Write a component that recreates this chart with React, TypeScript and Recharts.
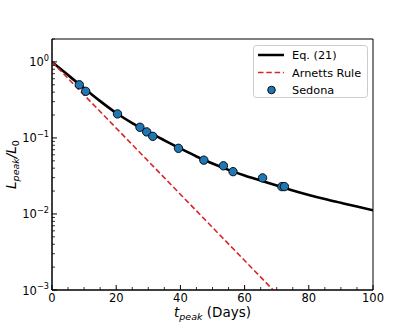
import React from 'react';
import {
  ComposedChart, Line, Scatter, XAxis, YAxis, ReferenceArea,
} from 'recharts';

// Eq. (21) curve
const eqT = [0, 5, 10, 15, 20, 25, 30, 35, 40, 45, 50, 55, 60, 65, 70, 75, 80, 85, 90, 95, 100];
const eqL = [1.0, 0.67, 0.45, 0.305, 0.213, 0.157, 0.12, 0.093, 0.0725, 0.057, 0.046, 0.038, 0.032, 0.0275, 0.0236, 0.0204, 0.0178, 0.0157, 0.014, 0.0125, 0.0112];

// Arnett's rule (straight line on log axis)
const arnettT = [0, 68.9];
const arnettL = [1.0, 0.001];

// Sedona points
const sedonaT = [8.5, 10.5, 20.4, 27.4, 29.5, 31.4, 39.4, 47.3, 53.4, 56.4, 65.6, 71.6, 72.4];
const sedonaL = [0.5, 0.41, 0.207, 0.138, 0.12, 0.105, 0.073, 0.051, 0.043, 0.036, 0.0298, 0.0229, 0.0229];

const xTicks = [0, 5, 10, 15, 20, 25, 30, 35, 40, 45, 50, 55, 60, 65, 70, 75, 80, 85, 90, 95, 100];
const xMajor = [0, 20, 40, 60, 80, 100];
const yDecades = [-3, -2, -1, 0];
const yMantissas = [1, 2, 3, 4, 5, 6, 7, 8, 9];
const yDomain: [number, number] = [0.001, 2];

const yTicks: number[] = [];
yDecades.forEach((e) => {
  yMantissas.forEach((m) => {
    const v = parseFloat((m * Math.pow(10, e)).toPrecision(6));
    if (v <= yDomain[1]) yTicks.push(v);
  });
});

const eqData = eqT.map((t, i) => ({ t, L: eqL[i] }));
const arnettData = arnettT.map((t, i) => ({ t, L: arnettL[i] }));
const sedonaData = sedonaT.map((t, i) => ({ t, L: sedonaL[i] }));

const FONT = 'DejaVu Sans';

const XTick = (props: any) => {
  const { x, y, payload } = props;
  const v = payload.value;
  const major = xMajor.includes(v);
  return (
    <g>
      <line x1={x} x2={x} y1={y} y2={y - (major ? 5 : 3)} stroke="#000" strokeWidth={major ? 1 : 0.8} />
      {major && (
        <text x={x} y={y + 11.5} textAnchor="middle" fontSize={11.5} fontFamily={FONT} fill="#000">
          {v}
        </text>
      )}
    </g>
  );
};

const YTick = (props: any) => {
  const { x, y, payload } = props;
  const v = payload.value;
  const lg = Math.log10(v);
  const e = Math.round(lg);
  const major = Math.abs(lg - e) < 1e-6;
  return (
    <g>
      <line x1={x} x2={x + (major ? 5 : 3)} y1={y} y2={y} stroke="#000" strokeWidth={major ? 1 : 0.8} />
      {major && (
        <text x={x - 3} y={y + 4.5} textAnchor="end" fontSize={11.5} fontFamily={FONT} fill="#000">
          10
          <tspan dy={-5.5} fontSize={8.2}>{e < 0 ? '\u2212' + -e : String(e)}</tspan>
        </text>
      )}
    </g>
  );
};

const XTitle = () => (
  <text x={212.5} y={316.5} textAnchor="middle" fontSize={13.5} fontFamily={FONT} fill="#000">
    <tspan fontStyle="italic">t</tspan>
    <tspan fontStyle="italic" fontSize={9.5} dy={3}>peak</tspan>
    <tspan dy={-3}>{'\u00a0(Days)'}</tspan>
  </text>
);

const YTitle = () => (
  <text
    x={16}
    y={164.5}
    transform="rotate(-90, 16, 164.5)"
    textAnchor="middle"
    fontSize={13.5}
    fontFamily={FONT}
    fill="#000"
  >
    <tspan fontStyle="italic">L</tspan>
    <tspan fontStyle="italic" fontSize={9.5} dy={3}>peak</tspan>
    <tspan fontStyle="italic" dy={-3}>/L</tspan>
    <tspan fontSize={9.5} dy={3}>0</tspan>
  </text>
);

const Dot = (props: any) => {
  const { cx, cy } = props;
  if (cx == null || cy == null) return null;
  return <circle cx={cx} cy={cy} r={4.2} fill="#1f77b4" stroke="#000" strokeWidth={0.9} />;
};

const LegendBox = () => (
  <svg width={415} height={332} style={{ position: 'absolute', left: 0, top: 0, pointerEvents: 'none' }}>
    <rect x={253.5} y={45.5} width={114} height={52} rx={3} fill="#fff" fillOpacity={0.8} stroke="#cccccc" strokeWidth={1} />
    <line x1={258} x2={284} y1={55} y2={55} stroke="#000" strokeWidth={2.5} />
    <line x1={258} x2={284} y1={72.5} y2={72.5} stroke="#d62728" strokeWidth={1.6} strokeDasharray="5.5 2.8" />
    <circle cx={271.5} cy={90} r={3.8} fill="#1f77b4" stroke="#000" strokeWidth={0.9} />
    <text x={292} y={59.3} fontSize={11.3} fontFamily={FONT} fill="#000">Eq. (21)</text>
    <text x={292} y={76.5} fontSize={11.3} fontFamily={FONT} fill="#000">Arnetts Rule</text>
    <text x={292} y={94} fontSize={11.3} fontFamily={FONT} fill="#000">Sedona</text>
  </svg>
);

export default function App() {
  return (
    <div style={{ position: 'absolute', left: 0, top: 0, width: 415, height: 332, background: '#fff' }}>
      <ComposedChart width={415} height={332} margin={{ top: 39, right: 42, left: 0, bottom: 0 }}>
        <XAxis
          type="number"
          dataKey="t"
          domain={[0, 100]}
          ticks={xTicks}
          interval={0}
          allowDataOverflow
          height={42}
          tickSize={0}
          tickMargin={0}
          tickLine={false}
          axisLine={{ stroke: '#000', strokeWidth: 1 }}
          tick={(p: any) => <XTick {...p} />}
          label={<XTitle />}
        />
        <YAxis
          type="number"
          dataKey="L"
          scale="log"
          domain={yDomain}
          ticks={yTicks}
          interval={0}
          allowDataOverflow
          width={52}
          tickSize={0}
          tickMargin={0}
          tickLine={false}
          axisLine={{ stroke: '#000', strokeWidth: 1 }}
          tick={(p: any) => <YTick {...p} />}
          label={<YTitle />}
        />
        <ReferenceArea x1={0} x2={100} y1={yDomain[0]} y2={yDomain[1]} fill="none" stroke="#000" strokeWidth={1} fillOpacity={0} />
        <Line
          data={eqData}
          dataKey="L"
          type="monotone"
          stroke="#000"
          strokeWidth={2.6}
          dot={false}
          activeDot={false}
          isAnimationActive={false}
        />
        <Line
          data={arnettData}
          dataKey="L"
          type="linear"
          stroke="#d62728"
          strokeWidth={1.6}
          strokeDasharray="5.5 2.8"
          dot={false}
          activeDot={false}
          isAnimationActive={false}
        />
        <Scatter data={sedonaData} dataKey="L" shape={<Dot />} isAnimationActive={false} />
      </ComposedChart>
      <LegendBox />
    </div>
  );
}
